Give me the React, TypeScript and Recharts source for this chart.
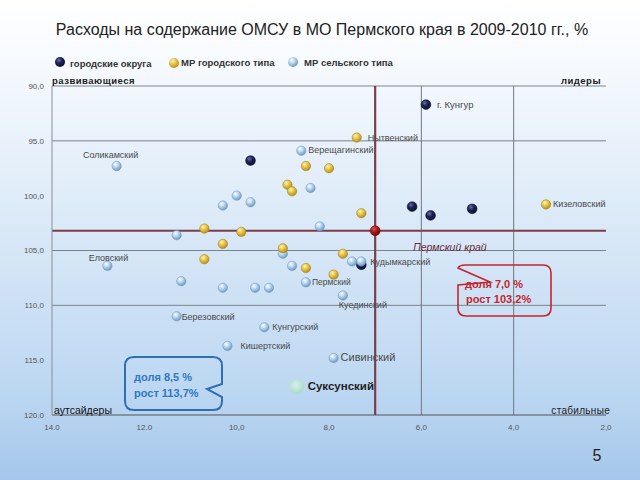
import React from 'react';
import { ScatterChart, Scatter, XAxis, YAxis, ReferenceLine } from 'recharts';

const X_TICKS = [14, 12, 10, 8, 6, 4, 2];
const X_TICK_LABELS = ['14.0', '12.0', '10,0', '8,0', '6,0', '4,0', '2,0'];
const Y_TICKS = [90, 95, 100, 105, 110, 115, 120];
const Y_TICK_LABELS = ['90,0', '95.0', '100,0', '105,0', '110,0', '115.0', '120.0'];

// доля (x, %) и рост (y, %) по группам
const CITY_DISTRICTS = [
  { x: 5.9, y: 91.7, name: 'г. Кунгур' },
  { x: 9.7, y: 96.8, name: '' },
  { x: 6.2, y: 101.0, name: '' },
  { x: 5.8, y: 101.8, name: '' },
  { x: 4.9, y: 101.2, name: '' },
  { x: 7.3, y: 106.3, name: '' },
];

const URBAN_DISTRICTS = [
  { x: 7.4, y: 94.7, name: 'Нытвенский' },
  { x: 8.5, y: 97.3, name: '' },
  { x: 8.0, y: 97.5, name: '' },
  { x: 8.9, y: 99.0, name: '' },
  { x: 8.8, y: 99.6, name: '' },
  { x: 7.3, y: 101.6, name: '' },
  { x: 9.9, y: 103.3, name: '' },
  { x: 10.7, y: 103.0, name: '' },
  { x: 10.3, y: 104.4, name: '' },
  { x: 10.7, y: 105.8, name: '' },
  { x: 9.0, y: 104.8, name: '' },
  { x: 7.7, y: 105.3, name: '' },
  { x: 8.5, y: 106.6, name: '' },
  { x: 7.9, y: 107.2, name: '' },
  { x: 3.3, y: 100.8, name: 'Кизеловский' },
];

const RURAL_DISTRICTS = [
  { x: 12.6, y: 97.3, name: 'Соликамский' },
  { x: 8.6, y: 95.9, name: 'Верещагинский' },
  { x: 10.0, y: 100.0, name: '' },
  { x: 10.3, y: 100.9, name: '' },
  { x: 9.7, y: 100.6, name: '' },
  { x: 8.4, y: 99.3, name: '' },
  { x: 8.2, y: 102.8, name: '' },
  { x: 11.3, y: 103.6, name: '' },
  { x: 12.8, y: 106.4, name: 'Еловский' },
  { x: 11.2, y: 107.8, name: '' },
  { x: 10.3, y: 108.4, name: '' },
  { x: 11.3, y: 111.0, name: 'Березовский' },
  { x: 10.2, y: 113.7, name: 'Кишертский' },
  { x: 9.4, y: 112.0, name: 'Кунгурский' },
  { x: 9.0, y: 105.3, name: '' },
  { x: 8.8, y: 106.4, name: '' },
  { x: 9.6, y: 108.4, name: '' },
  { x: 9.3, y: 108.4, name: '' },
  { x: 8.5, y: 107.9, name: 'Пермский' },
  { x: 7.5, y: 106.0, name: '' },
  { x: 7.3, y: 106.0, name: 'Кудымкарский' },
  { x: 7.7, y: 109.1, name: 'Куединский' },
  { x: 7.9, y: 114.8, name: 'Сивинский' },
];

const HIGHLIGHTED = [{ x: 8.7, y: 117.4, name: 'Суксунский' }];
const REGION = [{ x: 7.0, y: 103.2, name: 'Пермский край' }];

const LEGEND = ['городские округа', 'МР городского типа', 'МР сельского типа'];

type Place = { dx: number; dy: number; anchor?: string; size?: number; weight?: number; color?: string; italic?: boolean };
const LABEL_PLACE: Record<string, Place> = {
  'г. Кунгур': { dx: 11, dy: 0, size: 9.5 },
  'Нытвенский': { dx: 11, dy: 0 },
  'Кизеловский': { dx: 7, dy: 0 },
  'Соликамский': { dx: -6, dy: -11, anchor: 'middle' },
  'Верещагинский': { dx: 7, dy: -1 },
  'Еловский': { dx: 1, dy: -8, anchor: 'middle' },
  'Березовский': { dx: 5, dy: 1 },
  'Кишертский': { dx: 13, dy: 0 },
  'Кунгурский': { dx: 8, dy: 0 },
  'Пермский': { dx: 6, dy: 0, size: 8.5 },
  'Кудымкарский': { dx: 9, dy: 1 },
  'Куединский': { dx: 20, dy: 10, anchor: 'middle' },
  'Сивинский': { dx: 7, dy: -1, size: 11 },
  'Суксунский': { dx: 11, dy: 0, size: 11.5, weight: 600, color: '#222' },
  'Пермский край': { dx: 38, dy: 16, size: 10.5, italic: true, color: '#6b2b3a' },
};

const FONT = '"Liberation Sans", Arial, sans-serif';
const MAROON = '#7b3f49';

const BALL: Record<string, { r: number; stroke: string }> = {
  city: { r: 4.9, stroke: '#0b0d2a' },
  urban: { r: 4.7, stroke: '#a07c16' },
  rural: { r: 4.7, stroke: '#6f97bb' },
  big: { r: 7.5, stroke: '#b5ddd3' },
  region: { r: 5, stroke: '#6a0c0c' },
};

const makeShape = (kind: string) => (props: any) => {
  const { cx, cy, payload } = props;
  const b = BALL[kind];
  const p = payload.name ? LABEL_PLACE[payload.name] : null;
  return (
    <g>
      <circle cx={cx} cy={cy} r={b.r} fill={`url(#ball-${kind})`} stroke={b.stroke} strokeWidth={0.5} />
      {p && (
        <text
          x={cx + p.dx}
          y={cy + p.dy}
          textAnchor={(p.anchor as any) || 'start'}
          dominantBaseline="central"
          fontSize={p.size || 9}
          fontWeight={p.weight || 400}
          fontStyle={p.italic ? 'italic' : 'normal'}
          fill={p.color || '#4a4a4a'}
          fontFamily={FONT}
        >
          {payload.name}
        </text>
      )}
    </g>
  );
};

const Gradients = () => (
  <svg width={0} height={0} style={{ position: 'absolute' }}>
    <defs>
      <radialGradient id="ball-city" cx="38%" cy="32%" r="70%">
        <stop offset="0%" stopColor="#6b71a3" />
        <stop offset="45%" stopColor="#1d2255" />
        <stop offset="100%" stopColor="#0c0f33" />
      </radialGradient>
      <radialGradient id="ball-urban" cx="38%" cy="32%" r="70%">
        <stop offset="0%" stopColor="#fff6c2" />
        <stop offset="45%" stopColor="#e8c545" />
        <stop offset="100%" stopColor="#b48d1d" />
      </radialGradient>
      <radialGradient id="ball-rural" cx="38%" cy="32%" r="70%">
        <stop offset="0%" stopColor="#ffffff" />
        <stop offset="45%" stopColor="#b5d4ee" />
        <stop offset="100%" stopColor="#6c96bd" />
      </radialGradient>
      <radialGradient id="ball-big" cx="45%" cy="40%" r="65%">
        <stop offset="0%" stopColor="#d6f0e9" />
        <stop offset="100%" stopColor="#a6d8cb" />
      </radialGradient>
      <radialGradient id="ball-region" cx="38%" cy="32%" r="70%">
        <stop offset="0%" stopColor="#e05050" />
        <stop offset="50%" stopColor="#a51818" />
        <stop offset="100%" stopColor="#6a0808" />
      </radialGradient>
    </defs>
  </svg>
);

const Overlay = () => (
  <svg width={640} height={480} style={{ position: 'absolute', left: 0, top: 0, pointerEvents: 'none' }} fontFamily={FONT}>
    <text x={322} y={29} textAnchor="middle" dominantBaseline="central" fontSize={16} fill="#222">
      Расходы на содержание ОМСУ в МО Пермского края в 2009-2010 гг., %
    </text>
    {/* legend */}
    <circle cx={60} cy={62} r={5} fill="url(#ball-city)" />
    <text x={70} y={63} dominantBaseline="central" fontSize={9.5} fontWeight={700} fill="#333">{LEGEND[0]}</text>
    <circle cx={174} cy={63} r={5} fill="url(#ball-urban)" />
    <text x={181} y={62} dominantBaseline="central" fontSize={9.5} fontWeight={700} fill="#333">{LEGEND[1]}</text>
    <circle cx={293} cy={62} r={5} fill="url(#ball-rural)" />
    <text x={304} y={62} dominantBaseline="central" fontSize={9.5} fontWeight={700} fill="#333">{LEGEND[2]}</text>
    {/* quadrant captions */}
    <text x={52} y={80} dominantBaseline="central" fontSize={9.5} fontWeight={700} letterSpacing={0.5} fill="#222">развивающиеся</text>
    <text x={601} y={80} textAnchor="end" dominantBaseline="central" fontSize={9.5} fontWeight={700} letterSpacing={0.5} fill="#222">лидеры</text>
    <text x={54} y={410} dominantBaseline="central" fontSize={10.5} fill="#111">аутсайдеры</text>
    <text x={610} y={410} textAnchor="end" dominantBaseline="central" fontSize={10} letterSpacing={0.3} fill="#222">стабильные</text>
    {/* callouts */}
    <path
      d="M466 265 H543 Q551 265 551 273 V308 Q551 316 543 316 H466 Q458 316 458 308 V285 L490 282 L458 268 Q459 265 466 265 Z"
      fill="none"
      stroke="#c4262e"
      strokeWidth={1.6}
    />
    <text x={465} y={284} dominantBaseline="central" fontSize={11} fontWeight={700} fill="#c4262e">доля 7,0 %</text>
    <text x={466} y={299} dominantBaseline="central" fontSize={11} fontWeight={700} fill="#c4262e">рост 103,2%</text>
    <path
      d="M134 357 H213 Q222 357 222 366 V384 L207 389 L222 397 V401 Q222 410 213 410 H134 Q125 410 125 401 V366 Q125 357 134 357 Z"
      fill="none"
      stroke="#2f6fb1"
      strokeWidth={2}
    />
    <text x={134} y={377} dominantBaseline="central" fontSize={11} fontWeight={700} fill="#2f78c0">доля 8,5 %</text>
    <text x={134} y={393} dominantBaseline="central" fontSize={11} fontWeight={700} fill="#2f78c0">рост  113,7%</text>
    <text x={597} y={455} textAnchor="middle" dominantBaseline="central" fontSize={16} fill="#222">5</text>
  </svg>
);

const App: React.FC = () => {
  return (
    <div
      style={{
        position: 'absolute',
        left: 0,
        top: 0,
        width: 640,
        height: 480,
        overflow: 'hidden',
        background: 'linear-gradient(180deg, #ffffff 0%, #f5f9fe 15%, #dceaf8 45%, #bed8f2 80%, #a6c7eb 100%)',
      }}
    >
      <Gradients />
      <ScatterChart width={640} height={480} margin={{ top: 86, right: 34, bottom: 0, left: 0 }}>
        <XAxis
          type="number"
          dataKey="x"
          reversed
          domain={[2, 14]}
          ticks={X_TICKS}
          tickFormatter={(v: number) => X_TICK_LABELS[X_TICKS.indexOf(v)]}
          height={65}
          tickSize={0}
          tickMargin={9}
          tick={{ fontSize: 8, fill: '#555', fontFamily: FONT }}
          axisLine={{ stroke: '#555', strokeWidth: 1 }}
        />
        <YAxis
          type="number"
          dataKey="y"
          reversed
          domain={[90, 120]}
          ticks={Y_TICKS}
          tickFormatter={(v: number) => Y_TICK_LABELS[Y_TICKS.indexOf(v)]}
          width={52}
          tickSize={0}
          tickMargin={8}
          tick={{ fontSize: 8, fill: '#555', fontFamily: FONT }}
          axisLine={{ stroke: '#8a9098', strokeWidth: 1 }}
        />
        {[90, 95, 105, 110].map((v) => (
          <ReferenceLine key={`h${v}`} y={v} stroke="#7a848e" strokeWidth={1} />
        ))}
        {[6, 4].map((v) => (
          <ReferenceLine key={`v${v}`} x={v} stroke="#6f7882" strokeWidth={1} />
        ))}
        <ReferenceLine y={REGION[0].y} stroke={MAROON} strokeWidth={2.2} />
        <ReferenceLine x={REGION[0].x} stroke={MAROON} strokeWidth={2.2} />
        <Scatter data={CITY_DISTRICTS} shape={makeShape('city')} isAnimationActive={false} />
        <Scatter data={RURAL_DISTRICTS} shape={makeShape('rural')} isAnimationActive={false} />
        <Scatter data={URBAN_DISTRICTS} shape={makeShape('urban')} isAnimationActive={false} />
        <Scatter data={HIGHLIGHTED} shape={makeShape('big')} isAnimationActive={false} />
        <Scatter data={REGION} shape={makeShape('region')} isAnimationActive={false} />
      </ScatterChart>
      <Overlay />
    </div>
  );
};

export default App;
